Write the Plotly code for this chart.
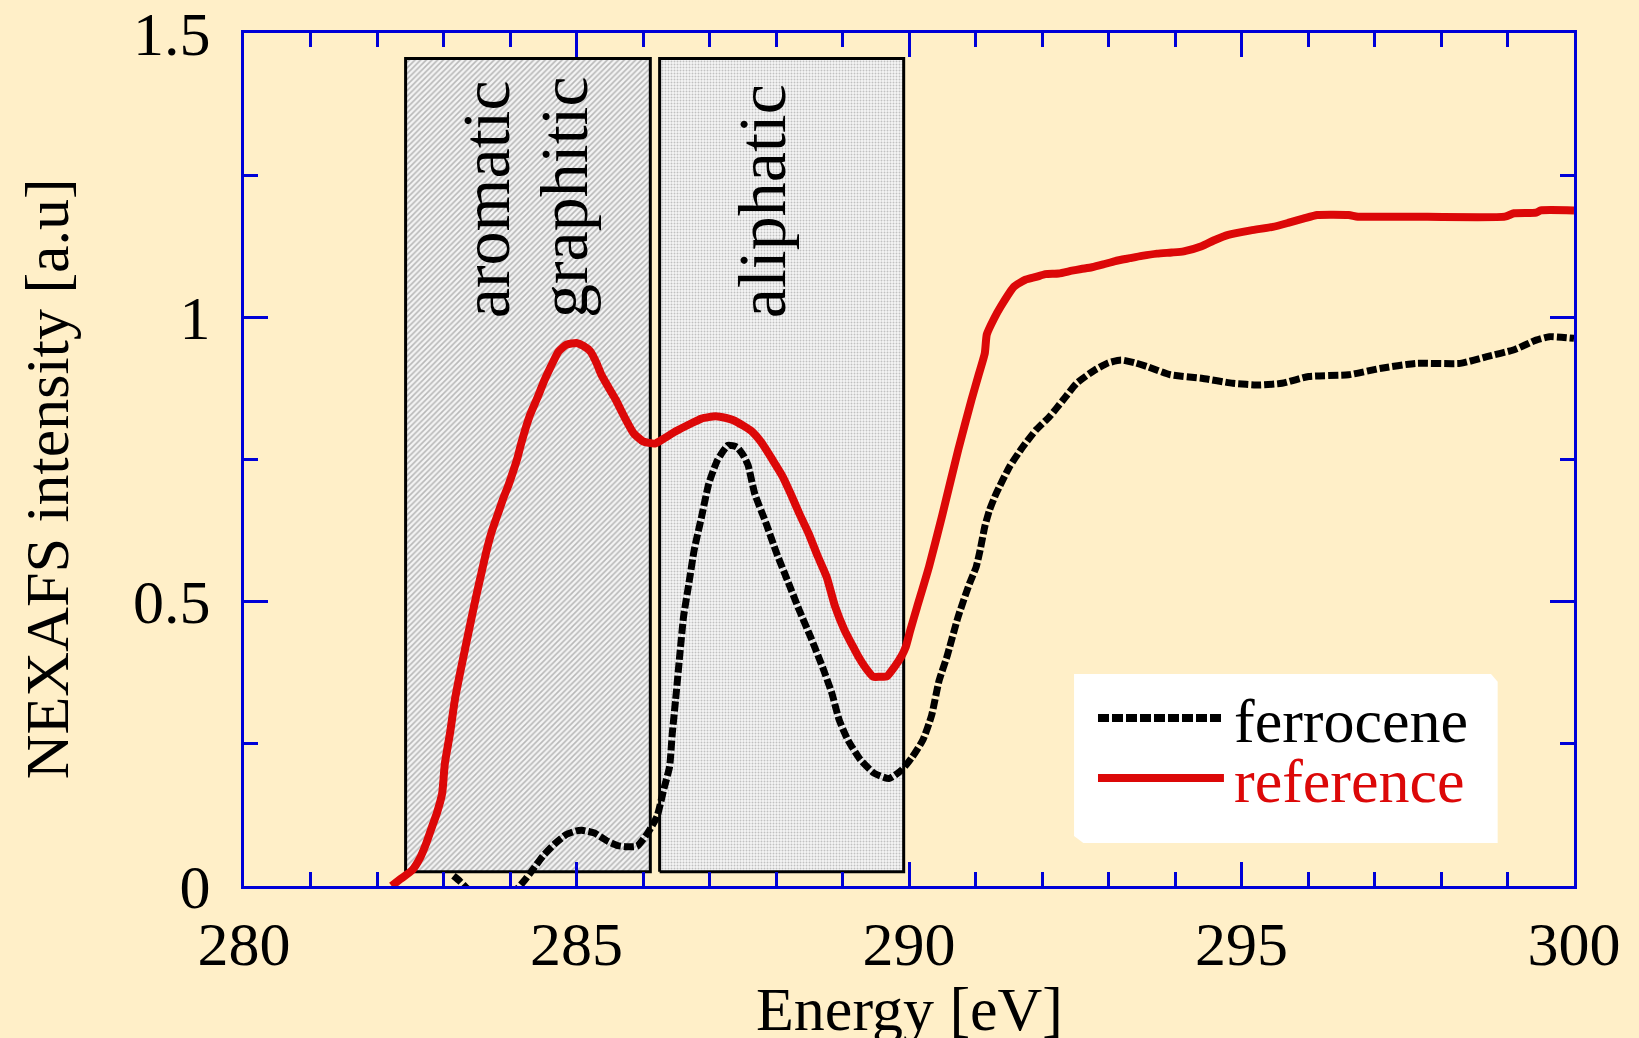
import plotly.graph_objects as go

# NEXAFS C K-edge spectra
ref_energy = [282.22, 282.35, 282.53, 282.65, 282.74, 282.83, 282.90, 282.98, 283.02, 283.10,
              283.17, 283.25, 283.33, 283.41, 283.49, 283.57, 283.65, 283.73, 283.82, 283.90,
              283.98, 284.05, 284.11, 284.17, 284.30, 284.41, 284.52, 284.62, 284.73, 284.85,
              285.00, 285.10, 285.21, 285.30, 285.37, 285.48, 285.59, 285.72, 285.86, 286.00,
              286.18, 286.33, 286.50, 286.70, 286.88, 287.09, 287.25, 287.36, 287.50, 287.63,
              287.78, 287.95, 288.10, 288.22, 288.35, 288.49, 288.62, 288.76, 288.89, 289.03,
              289.14, 289.24, 289.35, 289.46, 289.56, 289.67, 289.78, 289.89, 289.95, 290.02,
              290.12, 290.30, 290.50, 290.74, 290.94, 291.05, 291.14, 291.17, 291.28, 291.38,
              291.58, 291.75, 291.91, 292.05, 292.25, 292.45, 292.59, 292.75, 292.92, 293.10,
              293.32, 293.50, 293.73, 293.95, 294.13, 294.40, 294.60, 294.80, 295.14, 295.47,
              295.70, 295.94, 296.14, 296.61, 296.75, 297.50, 298.96, 299.10, 299.43, 299.50,
              300.00]
ref_intensity = [0.000, 0.012, 0.028, 0.050, 0.075, 0.105, 0.128, 0.163, 0.215, 0.270,
                 0.327, 0.375, 0.420, 0.465, 0.509, 0.550, 0.591, 0.625, 0.655, 0.682,
                 0.706, 0.730, 0.752, 0.779, 0.828, 0.858, 0.890, 0.915, 0.940, 0.952,
                 0.955, 0.950, 0.940, 0.920, 0.900, 0.877, 0.855, 0.825, 0.796, 0.782,
                 0.778, 0.788, 0.800, 0.812, 0.822, 0.826, 0.823, 0.819, 0.810, 0.800,
                 0.780, 0.749, 0.720, 0.690, 0.655, 0.620, 0.582, 0.544, 0.491, 0.450,
                 0.425, 0.403, 0.383, 0.368, 0.368, 0.369, 0.385, 0.405, 0.420, 0.450,
                 0.490, 0.561, 0.652, 0.767, 0.855, 0.900, 0.937, 0.970, 0.998, 1.019,
                 1.054, 1.066, 1.071, 1.076, 1.077, 1.082, 1.085, 1.088, 1.093, 1.099,
                 1.104, 1.108, 1.112, 1.114, 1.116, 1.125, 1.136, 1.145, 1.153, 1.159,
                 1.166, 1.174, 1.180, 1.180, 1.177, 1.177, 1.177, 1.183, 1.184, 1.188,
                 1.188]

fc_energy = [283.15, 283.25, 283.35, 283.50, 283.75, 284.00, 284.10, 284.22, 284.35, 284.49,
             284.68, 284.84, 285.00, 285.08, 285.27, 285.48, 285.62, 285.75, 285.91, 286.07,
             286.21, 286.31, 286.40, 286.44, 286.49, 286.56, 286.61, 286.69, 286.77, 286.88,
             286.99, 287.12, 287.28, 287.41, 287.52, 287.58, 287.68, 287.85, 288.01, 288.17,
             288.35, 288.52, 288.70, 288.84, 288.95, 289.08, 289.27, 289.48, 289.70, 289.89,
             290.05, 290.21, 290.34, 290.45, 290.57, 290.74, 290.91, 291.01, 291.07, 291.14,
             291.21, 291.31, 291.51, 291.71, 291.91, 292.11, 292.32, 292.52, 292.79, 293.00,
             293.19, 293.40, 293.59, 293.93, 294.40, 294.87, 295.27, 295.61, 296.01, 296.61,
             297.08, 297.62, 298.29, 298.69, 299.10, 299.43, 299.63, 300.00]
fc_intensity = [0.018, 0.008, -0.004, -0.014, -0.020, -0.014, -0.006, 0.010, 0.030, 0.052,
                0.075, 0.090, 0.097, 0.098, 0.093, 0.078, 0.071, 0.069, 0.070, 0.093,
                0.122, 0.169, 0.210, 0.268, 0.327, 0.415, 0.474, 0.532, 0.591, 0.649,
                0.708, 0.749, 0.775, 0.772, 0.755, 0.740, 0.690, 0.638, 0.585, 0.538,
                0.485, 0.438, 0.385, 0.339, 0.292, 0.257, 0.222, 0.198, 0.189, 0.204,
                0.227, 0.257, 0.300, 0.360, 0.403, 0.474, 0.532, 0.561, 0.591, 0.632,
                0.661, 0.690, 0.737, 0.772, 0.802, 0.825, 0.855, 0.884, 0.907, 0.920,
                0.925, 0.920, 0.913, 0.899, 0.893, 0.884, 0.881, 0.884, 0.896, 0.899,
                0.910, 0.919, 0.919, 0.931, 0.943, 0.960, 0.966, 0.963]

# Energy windows of the spectral features
band_names = ["aromatic", "aliphatic"]
band_start = [282.43, 286.25]
band_end = [286.11, 289.92]
band_low = 0.025
band_high = 1.455

series_names = ["ferrocene", "reference"]

y_ticks = [0, 0.5, 1, 1.5]
y_tick_text = ["0", "0.5", "1", "1.5"]

BG = "#FFEFC8"
AXIS_BLUE = "#0000D8"
RED = "#DC0808"
FONT = "Liberation Serif"

fig = go.Figure()

band_patterns = [
    dict(shape="/", size=4, solidity=0.4, fgcolor="#7c7c7c", bgcolor="#f4f4f4"),
    dict(shape=".", size=3, solidity=0.35, fgcolor="#8c8c8c", bgcolor="#f6f6f6"),
]
for name, a, b, pat in zip(band_names, band_start, band_end, band_patterns):
    fig.add_trace(go.Scatter(
        x=[a, a, b, b, a], y=[band_low, band_high, band_high, band_low, band_low],
        mode="lines", fill="toself", fillpattern=pat,
        line=dict(color="black", width=3), name=name,
        hoverinfo="skip", showlegend=False))

fig.add_trace(go.Scatter(
    x=fc_energy, y=fc_intensity, mode="lines", name=series_names[0],
    line=dict(color="black", width=7, dash="10px,3px", shape="spline", smoothing=0.5),
    showlegend=False))
fig.add_trace(go.Scatter(
    x=ref_energy, y=ref_intensity, mode="lines", name=series_names[1],
    line=dict(color=RED, width=8, shape="spline", smoothing=0.5),
    showlegend=False))

# Labels inside the shaded windows
for text, xc in [("aromatic", 283.64), ("graphitic", 284.81), ("aliphatic", 287.79)]:
    fig.add_annotation(x=xc, y=0.995, xref="x", yref="y", text=text, textangle=-90,
                       xanchor="center", yanchor="bottom", showarrow=False,
                       font=dict(family=FONT, size=68, color="black"))

# Axis titles
fig.add_annotation(x=0.5, y=-0.144, xref="paper", yref="paper", text="Energy [eV]",
                   showarrow=False, xanchor="center", yanchor="middle",
                   font=dict(family=FONT, size=62, color="black"))
fig.add_annotation(x=-0.148, y=0.477, xref="paper", yref="paper",
                   text="NEXAFS intensity [a.u]", textangle=-90, showarrow=False,
                   xanchor="center", yanchor="middle",
                   font=dict(family=FONT, size=62, color="black"))

# Legend panel
L, R, T, B = 0.6241, 0.9426, 0.2485, 0.0504
cx, cy = 0.005, 0.009
fig.add_shape(type="path", xref="paper", yref="paper", layer="above",
              path=(f"M {L} {T} L {R - cx} {T} L {R} {T - cy} L {R} {B} "
                    f"L {L + cx * 1.4} {B} L {L} {B + cy * 0.9} Z"),
              fillcolor="white", line=dict(width=0))
fig.add_shape(type="line", xref="paper", yref="paper", layer="above",
              x0=0.6421, x1=0.7346, y0=0.197, y1=0.197,
              line=dict(color="black", width=8, dash="11px,3px"))
fig.add_shape(type="line", xref="paper", yref="paper", layer="above",
              x0=0.6421, x1=0.7368, y0=0.1266, y1=0.1266,
              line=dict(color=RED, width=8))
fig.add_annotation(x=0.7425, y=0.193, xref="paper", yref="paper", text=series_names[0],
                   showarrow=False, xanchor="left", yanchor="middle",
                   font=dict(family=FONT, size=62, color="black"))
fig.add_annotation(x=0.7425, y=0.1226, xref="paper", yref="paper", text=series_names[1],
                   showarrow=False, xanchor="left", yanchor="middle",
                   font=dict(family=FONT, size=62, color=RED))

axis_common = dict(
    showgrid=False, zeroline=False, showline=True, linecolor=AXIS_BLUE, linewidth=3,
    mirror="ticks", ticks="inside", tickcolor=AXIS_BLUE, tickwidth=3, ticklen=24,
    tickfont=dict(family=FONT, size=62, color="black"), ticklabeloverflow="allow",
    automargin=False,
)
fig.update_xaxes(range=[280, 300], tick0=280, dtick=5, ticklabelstandoff=2,
                 minor=dict(dtick=1, ticks="inside", ticklen=14, tickwidth=3,
                            tickcolor=AXIS_BLUE, showgrid=False),
                 **axis_common)
fig.update_yaxes(range=[0, 1.5], tickmode="array", tickvals=y_ticks, ticktext=y_tick_text,
                 ticklabelstandoff=18,
                 minor=dict(tick0=0, dtick=0.25, ticks="inside", ticklen=14, tickwidth=3,
                            tickcolor=AXIS_BLUE, showgrid=False),
                 **axis_common)

fig.update_layout(
    width=1639, height=1038, autosize=False,
    margin=dict(l=244, r=65, t=33, b=152, pad=0),
    paper_bgcolor=BG, plot_bgcolor=BG,
    font=dict(family=FONT, color="black"),
    showlegend=False,
)

fig.write_html("out.html")
